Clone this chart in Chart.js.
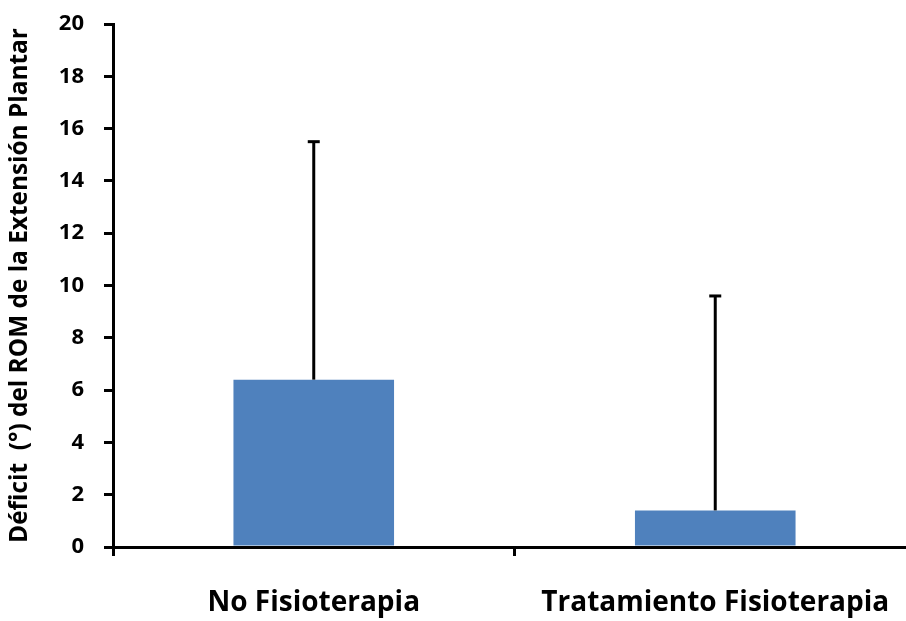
<!DOCTYPE html>
<html>
<head>
<meta charset="utf-8">
<script src="https://cdn.jsdelivr.net/npm/chart.js@4/dist/chart.umd.min.js"></script>
<style>
html,body{margin:0;padding:0;background:#fff;overflow:hidden;}
#wrap{width:916px;height:621px;position:relative;}
</style>
</head>
<body>
<div id="wrap"><canvas id="c"></canvas></div>
<script>
const categories = ["No Fisioterapia", "Tratamiento Fisioterapia"];
const meanValues = [6.4, 1.4];
const sdValues = [9.1, 8.2];
const yTicks = [0, 2, 4, 6, 8, 10, 12, 14, 16, 18, 20];
const yTitle = "Déficit  (°) del ROM de la Extensión Plantar";

const FONT = "'Open Sans', Lato, sans-serif";

const errorBars = {
  id: 'errorBars',
  afterDatasetsDraw(chart) {
    const ctx = chart.ctx;
    const meta = chart.getDatasetMeta(0);
    const ys = chart.scales.y;
    ctx.save();
    ctx.strokeStyle = '#000';
    ctx.lineWidth = 3;
    meta.data.forEach((bar, i) => {
      const x = bar.x;
      const y0 = ys.getPixelForValue(meanValues[i]);
      const y1 = ys.getPixelForValue(meanValues[i] + sdValues[i]);
      ctx.beginPath();
      ctx.moveTo(x, y0);
      ctx.lineTo(x, y1);
      ctx.stroke();
      ctx.beginPath();
      ctx.moveTo(x - 6, y1);
      ctx.lineTo(x + 6, y1);
      ctx.stroke();
    });
    ctx.restore();
  }
};

new Chart(document.getElementById('c'), {
  type: 'bar',
  data: {
    labels: categories,
    datasets: [{
      data: meanValues,
      backgroundColor: '#4F81BD',
      borderWidth: 0,
      categoryPercentage: 1.0,
      barPercentage: 0.4
    }]
  },
  options: {
    responsive: true,
    maintainAspectRatio: false,
    animation: false,
    layout: { padding: { top: 24, left: 5, right: 0, bottom: 0 } },
    plugins: { legend: { display: false }, tooltip: { enabled: false } },
    scales: {
      x: {
        offset: true,
        border: { display: true, color: '#000', width: 3 },
        grid: { display: true, drawOnChartArea: false, drawTicks: true, tickLength: 9, color: '#000', lineWidth: 3, offset: true },
        ticks: { color: '#000', font: { family: FONT, size: 28, weight: 'bold' }, padding: 30, maxRotation: 0 },
        afterFit(scale) { scale.height = 74; scale.paddingLeft = 0; scale.paddingRight = 0; }
      },
      y: {
        min: 0, max: 20,
        afterBuildTicks(scale) { scale.ticks = yTicks.map(v => ({ value: v })); },
        border: { display: true, color: '#000', width: 3 },
        grid: { display: true, drawOnChartArea: false, drawTicks: true, tickLength: 9, color: '#000', lineWidth: 3 },
        ticks: { color: '#000', font: { family: FONT, size: 22, weight: 'bold' }, padding: 20 },
        title: { display: true, text: yTitle, color: '#000', font: { family: FONT, size: 24.4, weight: 'bold' }, padding: { top: 0, bottom: 2 } },
        afterFit(scale) { scale.width = 108; scale.paddingTop = 0; scale.paddingBottom = 0; }
      }
    }
  },
  plugins: [errorBars]
});
</script>
</body>
</html>
